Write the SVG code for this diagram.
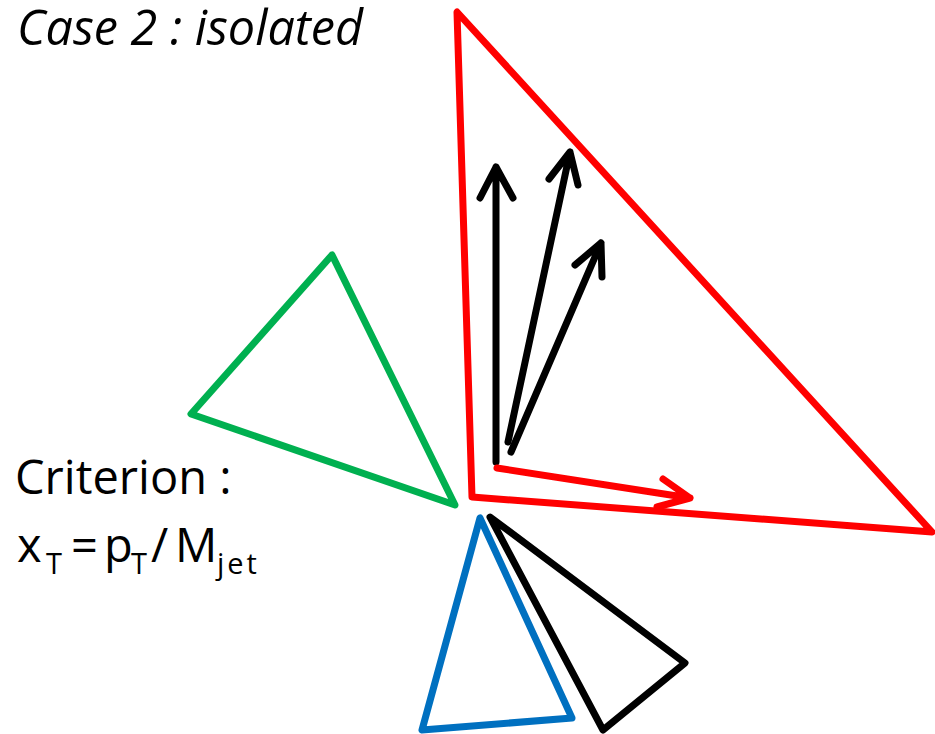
<svg xmlns="http://www.w3.org/2000/svg" width="935" height="734" viewBox="0 0 935 734">
<style>
.tri{fill:none;stroke-width:7;stroke-linejoin:round;stroke-linecap:round}
.arr{fill:none;stroke-width:7;stroke-linecap:round;stroke-linejoin:round}
.t{font-family:"Open Sans",Lato,sans-serif;font-size:47px;fill:#000}
.s{font-size:29px}
.c{font-size:48.5px;font-style:italic}
</style>
<rect width="935" height="734" fill="#fff"/>
<text class="t c" x="17" y="45">Case 2 : isolated</text>
<g id="red-jet"><polygon class="tri" stroke="#ff0000" points="457,12 472,497 932,532"/></g>
<g id="green-jet"><polygon class="tri" stroke="#00b050" points="332,255 191,414 455,505"/></g>
<g id="blue-jet"><polygon class="tri" stroke="#0070c0" points="480,518 422,730 572,718"/></g>
<g id="black-jet"><polygon class="tri" stroke="#000" points="490,517 685,663 603,730"/></g>
<g id="connectors">
<path class="arr" stroke="#000" d="M496,462 L496,167 M480,198 L496,167 L513,198"/>
<path class="arr" stroke="#000" d="M508,442 L570,152 M549,179 L570,152 L578,185"/>
<path class="arr" stroke="#000" d="M511,452 L601,243 M575,265 L601,243 L602,277"/>
<path class="arr" stroke="#ff0000" d="M497,468 L690,498 M663,479 L690,498 L657,507"/>
</g>
<text class="t" x="15" y="494">Criterion :</text>
<text class="t" y="562"><tspan x="17">x</tspan><tspan class="s" x="46" y="574">T</tspan><tspan x="71" y="562">=</tspan><tspan x="104">p</tspan><tspan class="s" x="131" y="574">T</tspan><tspan x="151" y="562">/</tspan><tspan x="175">M</tspan><tspan class="s" x="217" y="574" letter-spacing="3">jet</tspan></text>
</svg>
